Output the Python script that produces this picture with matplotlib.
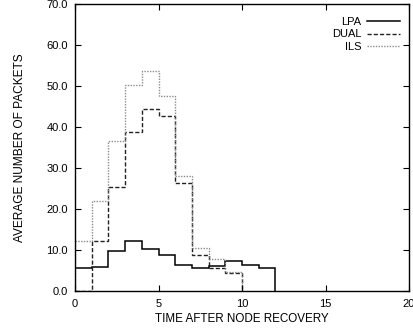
import matplotlib
matplotlib.use("Agg")
import matplotlib.pyplot as plt
import numpy as np

plt.rcParams['font.family'] = ['Liberation Sans', 'DejaVu Sans']

# Data (step values per unit time interval)
lpa_edges = [0, 1, 2, 3, 4, 5, 6, 7, 8, 9, 10, 11, 12]
lpa_vals = [5.7, 5.85, 9.85, 12.3, 10.2, 8.7, 6.3, 5.7, 6.0, 7.3, 6.3, 5.6]

dual_edges = [0, 1, 2, 3, 4, 5, 6, 7, 8, 9, 10]
dual_vals = [0.0, 12.2, 25.4, 38.8, 44.3, 42.7, 26.3, 8.9, 5.5, 4.4]

ils_edges = [0, 1, 2, 3, 4, 5, 6, 7, 8, 9, 10]
ils_vals = [12.2, 21.9, 36.6, 50.3, 53.7, 47.5, 28.0, 10.5, 7.7, 4.7]

x_ticks = [0, 5, 10, 15, 20]
y_ticks = [0, 10, 20, 30, 40, 50, 60, 70]

fig = plt.figure(figsize=(4.13, 3.29), dpi=100)
ax = fig.add_axes([75/413, 38/329, (409-75)/413, (291-4)/329])

ax.stairs(lpa_vals, lpa_edges, baseline=0, color='black', lw=1.1, ls='-', label='LPA')
ax.stairs(dual_vals, dual_edges, baseline=0, color='#222222', lw=1.0, ls=(0, (3, 1.5)), label='DUAL')
ax.stairs(ils_vals, ils_edges, baseline=0, color='#8c8c8c', lw=1.0, ls=(0, (1, 1)), label='ILS')

ax.set_xlim(0, 20)
ax.set_ylim(0, 70)
ax.set_xticks(x_ticks)
ax.set_xticklabels([str(t) for t in x_ticks])
ax.set_yticks(y_ticks)
ax.set_yticklabels([f"{t:.1f}" for t in y_ticks])
ax.tick_params(direction='in', top=True, right=True, length=4, width=0.8, labelsize=8)
ax.tick_params(axis='x', pad=6)
ax.tick_params(axis='y', pad=5)
for s in ax.spines.values():
    s.set_linewidth(1.0)

ax.set_xlabel('TIME AFTER NODE RECOVERY', fontsize=8.4, labelpad=2.5)
ax.set_ylabel('AVERAGE NUMBER OF PACKETS', fontsize=8.6, labelpad=15)

leg = ax.legend(loc='upper right', bbox_to_anchor=(1 - 3/334, 1 - 7/287),
                frameon=False, markerfirst=False, fontsize=8,
                handlelength=3.0, handletextpad=0.5, labelspacing=0.26,
                borderaxespad=0.3, borderpad=0.2)

fig.savefig('out.png', dpi=100)
